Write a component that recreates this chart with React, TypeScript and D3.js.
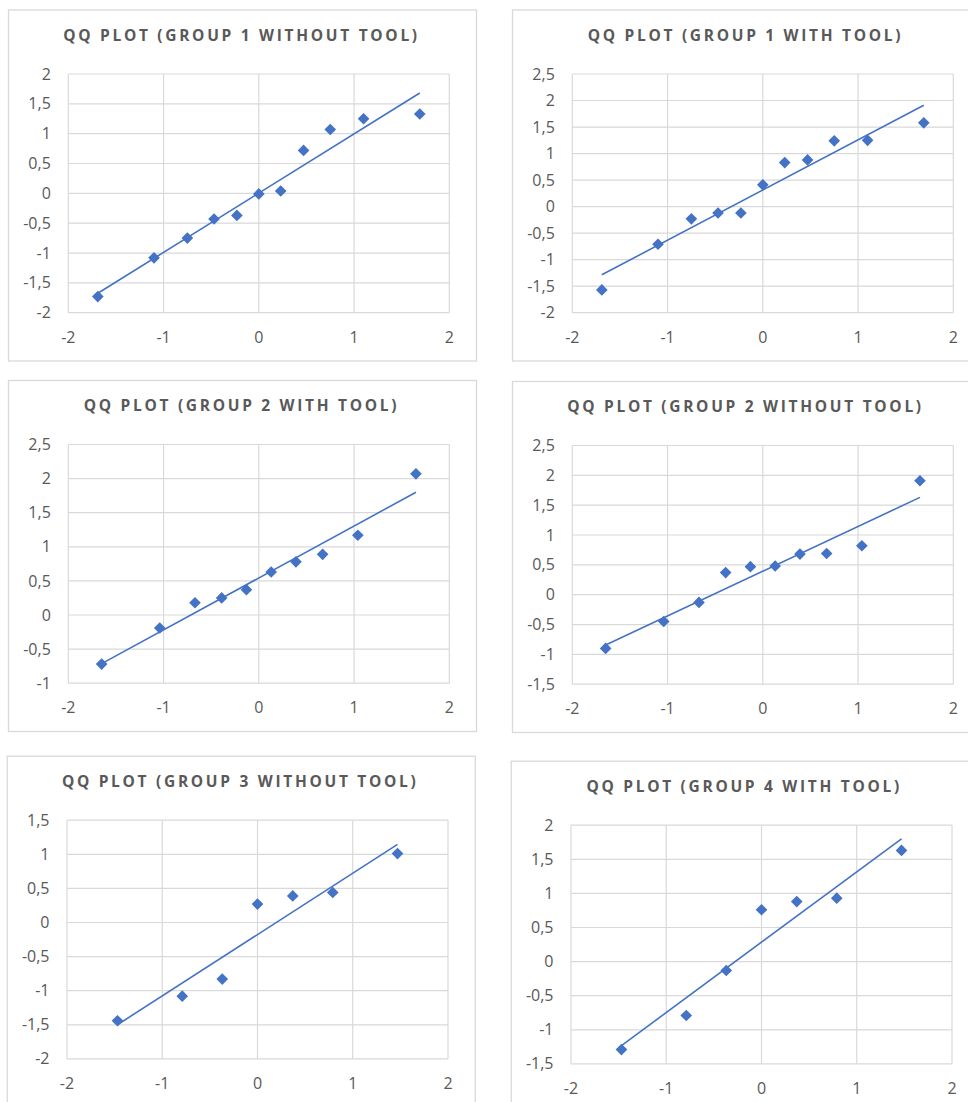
import React, { useEffect, useRef } from "react";
import * as d3 from "d3";

// theoretical normal quantiles
const quantiles11 = [-1.69, -1.1, -0.75, -0.47, -0.23, 0, 0.23, 0.47, 0.75, 1.1, 1.69];
const quantiles10 = [-1.65, -1.04, -0.67, -0.39, -0.13, 0.13, 0.39, 0.67, 1.04, 1.65];
const quantiles7 = [-1.47, -0.79, -0.37, 0, 0.37, 0.79, 1.47];

// standardized sample values per group
const group1Without = [-1.73, -1.08, -0.75, -0.43, -0.37, -0.01, 0.04, 0.72, 1.07, 1.25, 1.33];
const group1With = [-1.57, -0.71, -0.23, -0.12, -0.12, 0.41, 0.83, 0.88, 1.24, 1.25, 1.58];
const group2With = [-0.72, -0.19, 0.18, 0.25, 0.37, 0.63, 0.78, 0.89, 1.17, 2.07];
const group2Without = [-0.9, -0.45, -0.13, 0.37, 0.47, 0.48, 0.68, 0.69, 0.82, 1.91];
const group3Without = [-1.44, -1.08, -0.83, 0.27, 0.39, 0.44, 1.01];
const group4With = [-1.29, -0.79, -0.13, 0.76, 0.88, 0.93, 1.63];

const titles = [
    "QQ PLOT (GROUP 1 WITHOUT TOOL)",
    "QQ PLOT (GROUP 1 WITH TOOL)",
    "QQ PLOT (GROUP 2 WITH TOOL)",
    "QQ PLOT (GROUP 2 WITHOUT TOOL)",
    "QQ PLOT (GROUP 3 WITHOUT TOOL)",
    "QQ PLOT (GROUP 4 WITH TOOL)",
];
const xSeries = [quantiles11, quantiles11, quantiles10, quantiles10, quantiles7, quantiles7];
const ySeries = [group1Without, group1With, group2With, group2Without, group3Without, group4With];
const yMins = [-2, -2, -1, -1.5, -2, -1.5];
const yMaxs = [2, 2.5, 2.5, 2.5, 1.5, 2];
const xTicks = [-2, -1, 0, 1, 2];

// where each chart box sits on the page
const frames = [
    { x: 8, y: 9.5 },
    { x: 512, y: 9.5 },
    { x: 8, y: 380 },
    { x: 512, y: 381 },
    { x: 6.7, y: 755.7 },
    { x: 510.7, y: 760.7 },
];

const WIDTH = 968;
const HEIGHT = 1102;
const blue = "#4472C4";
const gridColor = "#d9d9d9";
const textColor = "#595959";
const fontFamily = "'Open Sans', 'Noto Sans', sans-serif";

const fmt = d3
    .formatLocale({ decimal: ",", thousands: ".", grouping: [3], currency: ["", ""], minus: "-" })
    .format("~g");

const QQPlots = () => {
    const svgRef = useRef(null);

    useEffect(() => {
        const svg = d3.select(svgRef.current);
        svg.selectAll("*").remove();

        svg.append("rect").attr("width", WIDTH).attr("height", HEIGHT).attr("fill", "white");

        titles.forEach((title, i) => {
            const frame = frames[i];
            const g = svg.append("g").attr("transform", `translate(${frame.x}, ${frame.y})`);

            // chart box
            g.append("rect")
                .attr("x", 0.5)
                .attr("y", 0.5)
                .attr("width", 468)
                .attr("height", 351)
                .attr("fill", "white")
                .attr("stroke", gridColor)
                .attr("stroke-width", 1.3);

            const left = 60.3;
            const top = 64.5;
            const plotW = 381;
            const plotH = 238.7;

            const x = d3.scaleLinear().domain([-2, 2]).range([left, left + plotW]);
            const y = d3.scaleLinear().domain([yMins[i], yMaxs[i]]).range([top + plotH, top]);
            const yTicks = d3.range(yMins[i], yMaxs[i] + 0.001, 0.5);

            // gridlines
            g.append("g")
                .selectAll("line")
                .data(yTicks)
                .enter()
                .append("line")
                .attr("x1", left)
                .attr("x2", left + plotW)
                .attr("y1", (d) => y(d))
                .attr("y2", (d) => y(d))
                .attr("stroke", gridColor)
                .attr("stroke-width", 1.2);

            g.append("g")
                .selectAll("line")
                .data(xTicks)
                .enter()
                .append("line")
                .attr("x1", (d) => x(d))
                .attr("x2", (d) => x(d))
                .attr("y1", top)
                .attr("y2", top + plotH)
                .attr("stroke", gridColor)
                .attr("stroke-width", 1.2);

            // tick labels
            g.append("g")
                .selectAll("text")
                .data(yTicks)
                .enter()
                .append("text")
                .attr("x", left - 17.5)
                .attr("y", (d) => y(d))
                .attr("dy", "0.35em")
                .attr("text-anchor", "end")
                .style("font-family", fontFamily)
                .style("font-size", "16px")
                .attr("fill", textColor)
                .text((d) => fmt(d));

            g.append("g")
                .selectAll("text")
                .data(xTicks)
                .enter()
                .append("text")
                .attr("x", (d) => x(d))
                .attr("y", top + plotH + 24.5)
                .attr("dy", "0.35em")
                .attr("text-anchor", "middle")
                .style("font-family", fontFamily)
                .style("font-size", "16px")
                .attr("fill", textColor)
                .text((d) => fmt(d));

            // linear trendline (least squares, like Excel)
            const xs = xSeries[i];
            const ys = ySeries[i];
            const pts = xs.map((v, k) => ({ qx: v, qy: ys[k] }));
            const mx = d3.mean(xs);
            const my = d3.mean(ys);
            const sxy = d3.sum(pts, (p) => (p.qx - mx) * (p.qy - my));
            const sxx = d3.sum(xs, (v) => (v - mx) * (v - mx));
            const slope = sxy / sxx;
            const intercept = my - slope * mx;
            const ext = d3.extent(xs);

            g.append("path")
                .datum(ext)
                .attr("d", d3.line().x((d) => x(d)).y((d) => y(intercept + slope * d)))
                .attr("fill", "none")
                .attr("stroke", blue)
                .attr("stroke-width", 1.6);

            // diamond markers
            const diamond = d3.symbol().type(d3.symbolSquare).size(68);
            g.append("g")
                .selectAll("path")
                .data(pts)
                .enter()
                .append("path")
                .attr("d", diamond)
                .attr("transform", (d) => `translate(${x(d.qx)}, ${y(d.qy)}) rotate(45)`)
                .attr("fill", blue);

            // title
            g.append("text")
                .attr("x", 233.5)
                .attr("y", 26)
                .attr("dy", "0.35em")
                .attr("text-anchor", "middle")
                .style("font-family", fontFamily)
                .style("font-size", "15.5px")
                .style("font-weight", "bold")
                .style("letter-spacing", "2.7px")
                .attr("fill", textColor)
                .text(title);
        });
    }, []);

    return (
        <div style={{ position: "absolute", left: 0, top: 0, width: WIDTH, height: HEIGHT, overflow: "hidden" }}>
            <svg ref={svgRef} width={WIDTH} height={HEIGHT} style={{ display: "block" }}></svg>
        </div>
    );
};

export default function App() {
    return <QQPlots />;
}
